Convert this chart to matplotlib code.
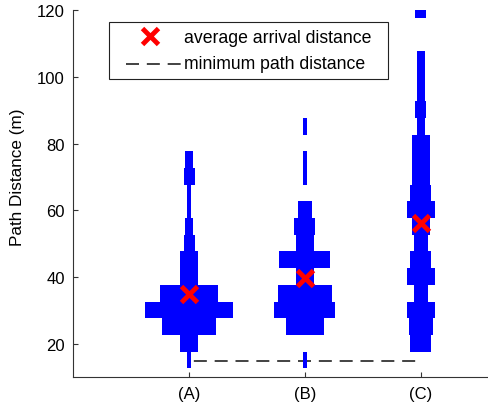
import matplotlib
matplotlib.use("Agg")
import matplotlib.pyplot as plt
import numpy as np

plt.rcParams['font.family'] = ['Liberation Sans', 'DejaVu Sans']

# ---- data ----
groups = ['(A)', '(B)', '(C)']
positions = [1, 2, 3]
bin_centers = [15.2, 20.2, 25.2, 30.2, 35.2, 40.2, 45.2, 50.2, 55.2, 60.2,
               65.2, 70.2, 75.2, 80.2, 85.2, 90.2, 95.2, 100.2, 105.2,
               110.2, 115.2, 120.2]
bin_height = 5.0
counts_A = [1, 5, 16, 26, 17, 5, 5, 3, 2, 1, 1, 3, 2, 0, 0, 0, 0, 0, 0, 0, 0, 0]
counts_B = [1, 0, 11, 18, 16, 5, 15, 5, 6, 4, 0, 1, 1, 0, 1, 0, 0, 0, 0, 0, 0, 0]
counts_C = [0, 6, 7, 8, 4, 8, 6, 4, 5, 8, 6, 5, 5, 5, 2, 3, 2, 2, 2, 0, 0, 3]
average_distance = [35.0, 39.6, 56.3]
minimum_path_distance = 15.0
yticks = [20, 40, 60, 80, 100, 120]

# ---- style ----
count_scale = 0.0288   # x-units per count
count_pad = 0.0086     # visual padding
blue = '#0000ff'
red = '#ff0000'
dash_lw = 1.2
dash_pat = (7.8, 4.7)

fig = plt.figure(figsize=(4.88, 4.14), dpi=100)
ax = fig.add_axes([0.150, 0.0862, 0.85, 0.8872])

for pos, counts in zip(positions, [counts_A, counts_B, counts_C]):
    c = np.array(counts, dtype=float)
    w = np.where(c > 0, c * count_scale + count_pad, 0)
    ax.barh(bin_centers, w, left=pos - w / 2, height=bin_height,
            color=blue, linewidth=0, zorder=3)

ax.plot([positions[0], positions[-1]], [minimum_path_distance] * 2,
        color='#222222', lw=dash_lw, linestyle=(9.6, dash_pat), zorder=2)

ax.plot(positions, average_distance, linestyle='none', marker='x',
        markersize=11, markeredgewidth=3.5, color=red, zorder=5)

ax.set_xlim(0, 3.58)
ax.set_ylim(10, 120)
ax.set_xticks(positions)
ax.set_xticklabels(groups)
ax.set_yticks(yticks)
ax.tick_params(direction='in', length=3.5, width=0.8, labelsize=12,
               color='#333333')
ax.tick_params(axis='y', pad=6)
ax.tick_params(axis='x', pad=6.5)
for s in ['top', 'right']:
    ax.spines[s].set_visible(False)
for s in ['left', 'bottom']:
    ax.spines[s].set_color('#333333')
    ax.spines[s].set_linewidth(0.8)

ax.set_ylabel('Path Distance (m)', fontsize=12.3)
ax.yaxis.set_label_coords(-0.116, 0.547)

# ---- legend (drawn in axes coords) ----
T = ax.transAxes
ax.add_patch(plt.Rectangle((0.0861, 0.8121), 0.7589 - 0.0861, 0.9665 - 0.8121,
                           transform=T, facecolor='white', edgecolor='#222222',
                           linewidth=0.8, zorder=6, clip_on=False))
ax.plot([0.185], [0.9292], transform=T, marker='x', markersize=11,
        markeredgewidth=3.5, color=red, linestyle='none', zorder=7,
        clip_on=False)
ax.plot([0.127, 0.2614], [0.8538, 0.8538], transform=T, color='#222222',
        lw=dash_lw, linestyle=(0, dash_pat), zorder=7, clip_on=False)
ax.text(0.268, 0.9137, 'average arrival distance', transform=T, fontsize=12.7,
        va='baseline', ha='left', zorder=8)
ax.text(0.268, 0.8413, 'minimum path distance', transform=T, fontsize=12.7,
        va='baseline', ha='left', zorder=8)

fig.savefig('out.png', dpi=100)
